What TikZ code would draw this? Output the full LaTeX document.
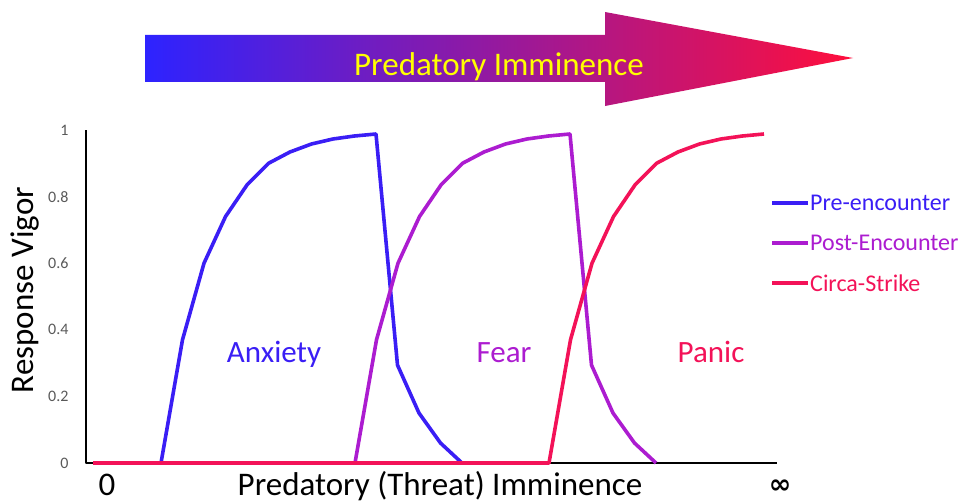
\documentclass[tikz,border=0pt]{standalone}
\usepackage{fontspec}
\setmainfont{Carlito}
\newfontfamily\infinityfont{DejaVu Sans}
\usepackage{tikz}
\usetikzlibrary{positioning}

\definecolor{preblue}{RGB}{58,30,245}
\definecolor{postpurple}{RGB}{172,28,208}
\definecolor{strikered}{RGB}{243,18,88}
\definecolor{tickgray}{RGB}{89,89,89}
\definecolor{titleyellow}{RGB}{255,255,0}
\definecolor{shadeleft}{RGB}{45,35,255}
\definecolor{shademid}{RGB}{170,24,222}
\definecolor{shaderight}{RGB}{255,15,60}

% response shape: x offset (px) / vigor
\newcommand\vigorrise{0/0, 21.5/.37, 43/.60, 64.5/.74, 86/.835, 107.5/.90, 129/.934, 150.5/.958, 172/.973, 193.5/.982, 215/.988}
\newcommand\vigorfall{236.5/.294, 258/.15, 279.5/.06, 301/0}

\begin{document}
\begin{tikzpicture}[x=1pt,y=-1pt,line join=round,
                    axis line/.style={black,line width=2.6pt},
                    pre curve/.style={preblue,line width=3.6pt},
                    post curve/.style={postpurple,line width=3.6pt},
                    strike curve/.style={strikered,line width=3.6pt},
                    tick label/.style={anchor=east,text=tickgray,font=\fontsize{16}{18}\selectfont},
                    big label/.style={font=\fontsize{33}{38}\selectfont},
                    zone label/.style={anchor=base,font=\fontsize{31}{36}\selectfont},
                    legend text/.style={anchor=west,inner sep=2pt,font=\fontsize{24}{28}\selectfont}]

  \useasboundingbox (0,0) rectangle (972,503);

  % title arrow
  \shade[left color=shadeleft, middle color=shademid, right color=shaderight]
    (145,35) -- (605,35) -- (605,12) -- (853,58) -- (605,106) -- (605,82) -- (145,82) -- cycle;
  \node[big label,anchor=base,text=titleyellow] (title) at (499,75) {Predatory Imminence};

  % axes
  \draw[axis line] (86,130) -- (86,463) -- (777,463);
  \foreach \v/\lab [count=\i] in {0/0,.2/0.2,.4/0.4,.6/0.6,.8/0.8,1/1}
    \node[tick label] (tick\i) at (72,463-333*\v) {\lab};

  \node[big label,rotate=90] (ylab) at (25,290) {Response Vigor};
  \node[big label,anchor=base] (xlab) at (440,495) {Predatory (Threat) Imminence};
  \node[big label,anchor=base] (zero) at (107,495) {0};
  \node[font=\infinityfont\bfseries\fontsize{27}{30}\selectfont] (inf) at (780,487) {∞};

  % curves
  \begin{scope}[shift={(161,463)},y=333pt]
    \draw[pre curve] (-68,0) \foreach \px/\py in \vigorrise {-- (\px,\py)}
                             \foreach \px/\py in \vigorfall {-- (\px,\py)};
  \end{scope}
  \begin{scope}[shift={(355,463)},y=333pt]
    \draw[post curve] (-262,0) \foreach \px/\py in \vigorrise {-- (\px,\py)}
                               \foreach \px/\py in \vigorfall {-- (\px,\py)};
  \end{scope}
  \begin{scope}[shift={(549,463)},y=333pt]
    \draw[strike curve] (-456,0) \foreach \px/\py in \vigorrise {-- (\px,\py)};
  \end{scope}

  \node[zone label,text=preblue] (anxiety) at (274,362) {Anxiety};
  \node[zone label,text=postpurple] (fear) at (504,362) {Fear};
  \node[zone label,text=strikered] (panic) at (711,362) {Panic};

  % legend
  \node[legend text,text=preblue] (pre) at (808,203) {Pre-encounter};
  \node[legend text,text=postpurple] (post) at (808,243) {Post-Encounter};
  \node[legend text,text=strikered] (strike) at (808,283) {Circa-Strike};
  \draw[pre curve] (pre.west) -- ++(-36,0);
  \draw[post curve] (post.west) -- ++(-36,0);
  \draw[strike curve] (strike.west) -- ++(-36,0);
\end{tikzpicture}
\end{document}
